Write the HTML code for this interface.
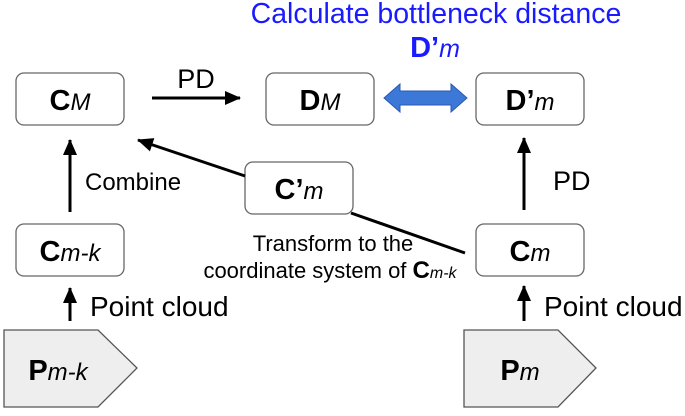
<!DOCTYPE html>
<html><head><meta charset="utf-8"><style>
body{margin:0;background:#fff;width:685px;height:411px;overflow:hidden;font-family:"Liberation Sans",sans-serif}
svg text{font-family:"Liberation Sans",sans-serif}
</style></head><body>
<svg width="685" height="411" viewBox="0 0 685 411">
<defs>
<marker id="b" markerWidth="16" markerHeight="14" refX="15" refY="7" orient="auto" markerUnits="userSpaceOnUse"><path d="M0,0L16,7L0,14z" fill="#000"/></marker></defs>
<g fill="#fff" stroke="#666" stroke-width="1.3">
<rect x="16" y="73" width="108" height="52" rx="8"/>
<rect x="266" y="73" width="108" height="52" rx="8"/>
<rect x="476" y="73" width="108" height="52" rx="8"/>
<rect x="245" y="162" width="108" height="52" rx="8"/>
<rect x="16" y="224" width="108" height="52" rx="8"/>
<rect x="476" y="224" width="108" height="52" rx="8"/>
</g>
<g fill="#eee" stroke="#555" stroke-width="1.3">
<path d="M4,330H98L137,368L98,407H4z"/>
<path d="M464,330H558L596,368L558,407H464z"/>
</g>
<g stroke="#000" stroke-width="3" fill="none">
<line x1="152" y1="98" x2="240" y2="98" marker-end="url(#b)"/>
<line x1="70" y1="212" x2="70" y2="140" marker-end="url(#b)"/>
<line x1="70" y1="321" x2="70" y2="288" marker-end="url(#b)"/>
<line x1="524" y1="210" x2="524" y2="138" marker-end="url(#b)"/>
<line x1="524" y1="321" x2="524" y2="286" marker-end="url(#b)"/>
<line x1="465" y1="253" x2="351" y2="213"/>
<line x1="245" y1="176" x2="138" y2="140" marker-end="url(#b)"/>
</g>
<path d="M384,98L400,84V91H451V84L467,98L451,112V105H400V112z" fill="#3c78d8" stroke="#2a5ab0" stroke-width="1"/>
<g text-anchor="middle">
<text x="70" y="110"><tspan font-weight="bold" font-size="29">C</tspan><tspan font-style="italic" font-size="24">M</tspan></text>
<text x="320" y="110"><tspan font-weight="bold" font-size="29">D</tspan><tspan font-style="italic" font-size="24">M</tspan></text>
<text x="530" y="110"><tspan font-weight="bold" font-size="29">D’</tspan><tspan font-style="italic" font-size="24">m</tspan></text>
<text x="299" y="199"><tspan font-weight="bold" font-size="29">C’</tspan><tspan font-style="italic" font-size="24">m</tspan></text>
<text x="70" y="261"><tspan font-weight="bold" font-size="29">C</tspan><tspan font-style="italic" font-size="24">m-k</tspan></text>
<text x="530" y="261"><tspan font-weight="bold" font-size="29">C</tspan><tspan font-style="italic" font-size="24">m</tspan></text>
<text x="58" y="380"><tspan font-weight="bold" font-size="29">P</tspan><tspan font-style="italic" font-size="24">m-k</tspan></text>
<text x="520" y="380"><tspan font-weight="bold" font-size="29">P</tspan><tspan font-style="italic" font-size="24">m</tspan></text>
</g>
<text x="196" y="88" font-size="27" text-anchor="middle">PD</text>
<text x="553" y="190" font-size="27">PD</text>
<text x="85" y="190" font-size="24">Combine</text>
<text x="90" y="316" font-size="28">Point cloud</text>
<text x="544" y="316" font-size="28">Point cloud</text>
<text x="333" y="251" font-size="22" text-anchor="middle">Transform to the</text>
<text x="330" y="278" font-size="22" text-anchor="middle">coordinate system of <tspan font-weight="bold" font-size="24">C</tspan><tspan font-style="italic" font-size="16">m-k</tspan></text>
<text x="436" y="23" font-size="28.5" fill="#1a1aff" text-anchor="middle">Calculate bottleneck distance</text>
<text x="435" y="57" fill="#1a1aff" text-anchor="middle"><tspan font-weight="bold" font-size="29">D’</tspan><tspan font-style="italic" font-size="25">m</tspan></text>
</svg>
</body></html>
